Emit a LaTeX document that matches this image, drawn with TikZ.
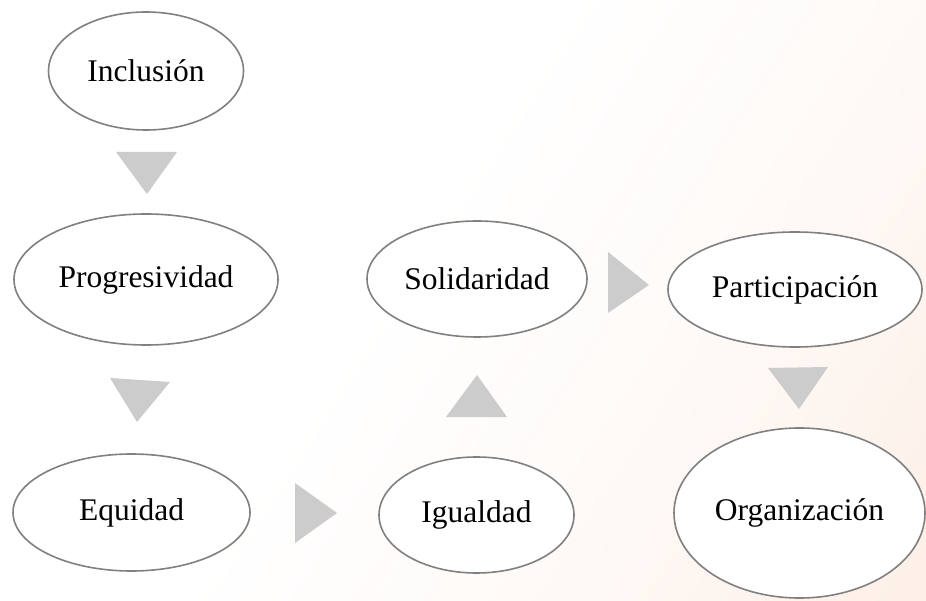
\documentclass[tikz,border=0pt]{standalone}
\usepackage{fontspec}
\setmainfont{Liberation Serif}
\usetikzlibrary{shapes.geometric}
\definecolor{peach}{RGB}{251,232,220}
\definecolor{ringgray}{RGB}{128,128,128}
\definecolor{trigray}{RGB}{204,204,204}
\pgfdeclarehorizontalshading{bgshade}{100bp}{color(0bp)=(white); color(45bp)=(white); color(62bp)=(white!80!peach); color(100bp)=(peach)}
\tikzset{
  oval/.style={ellipse, draw=ringgray, line width=1.6pt, fill=white, inner sep=0pt,
    font=\fontsize{31.5}{36}\selectfont, text=black},
  tri/.style={fill=trigray, draw=none}
}
\begin{document}
\begin{tikzpicture}[x=1pt,y=-1pt]
\useasboundingbox (0,0) rectangle (926,601);
\shade[shading=bgshade, shading angle=-33] (0,0) rectangle (926,601);
% nodes
\node[oval, minimum width=195pt, minimum height=118pt] (inc) at (146,71) {Inclusión};
\node[oval, minimum width=264pt, minimum height=131pt] (prog) at (146,279.5) {Progresividad};
\node[oval, minimum width=237pt, minimum height=117pt] (equi) at (131.5,512.5) {Equidad};
\node[oval, minimum width=195pt, minimum height=116pt] (igu) at (476.5,515) {Igualdad};
\node[oval, minimum width=220pt, minimum height=116pt] (soli) at (477,279) {Solidaridad};
\node[oval, minimum width=254pt, minimum height=115pt] (part) at (795,289.5) {Participación};
\node[oval, minimum width=251pt, minimum height=170pt] (org) at (799.5,513) {Organización};
% triangular connectors
\fill[tri] (116,152) -- (177,152) -- (147,194) -- cycle;
\fill[tri] (110,378) -- (170,382) -- (137,422) -- cycle;
\fill[tri] (295,483) -- (337,513) -- (295,543) -- cycle;
\fill[tri] (477,375) -- (507,417) -- (446,417) -- cycle;
\fill[tri] (608,252) -- (649,285) -- (608,313) -- cycle;
\fill[tri] (768,368) -- (828,367) -- (799,409) -- cycle;
\end{tikzpicture}
\end{document}
